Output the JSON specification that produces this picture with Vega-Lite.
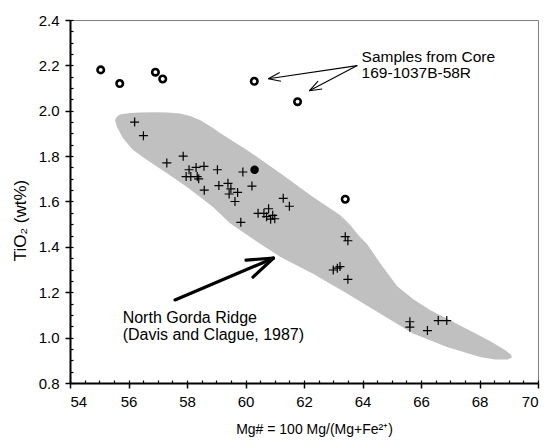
{
  "$schema": "https://vega.github.io/schema/vega-lite/v6.json",
  "width": 468,
  "height": 363,
  "autosize": "none",
  "padding": {"left": 70, "top": 20, "right": 10, "bottom": 57},
  "config": {
    "view": {"stroke": "#808080", "strokeWidth": 1},
    "font": "Liberation Sans",
    "axis": {"grid": false}
  },
  "datasets": {
    "region": [
      {"i": 0, "x": 55.538, "y": 1.959}, {"i": 1, "x": 55.607, "y": 1.975}, {"i": 2, "x": 55.709, "y": 1.984},
      {"i": 3, "x": 56.051, "y": 1.99}, {"i": 4, "x": 56.393, "y": 1.992}, {"i": 5, "x": 56.906, "y": 1.993},
      {"i": 6, "x": 57.316, "y": 1.992}, {"i": 7, "x": 57.761, "y": 1.988}, {"i": 8, "x": 58.103, "y": 1.977},
      {"i": 9, "x": 58.444, "y": 1.959}, {"i": 10, "x": 58.889, "y": 1.924}, {"i": 11, "x": 59.128, "y": 1.902},
      {"i": 12, "x": 60.051, "y": 1.827}, {"i": 13, "x": 61.179, "y": 1.726}, {"i": 14, "x": 62.308, "y": 1.62},
      {"i": 15, "x": 63.231, "y": 1.541}, {"i": 16, "x": 63.573, "y": 1.497}, {"i": 17, "x": 63.915, "y": 1.444},
      {"i": 18, "x": 64.154, "y": 1.413}, {"i": 19, "x": 64.598, "y": 1.329}, {"i": 20, "x": 65.179, "y": 1.228},
      {"i": 21, "x": 65.726, "y": 1.17}, {"i": 22, "x": 66.308, "y": 1.122}, {"i": 23, "x": 67.436, "y": 1.047},
      {"i": 24, "x": 68.359, "y": 0.985}, {"i": 25, "x": 68.872, "y": 0.946}, {"i": 26, "x": 69.077, "y": 0.924},
      {"i": 27, "x": 69.111, "y": 0.913}, {"i": 28, "x": 68.974, "y": 0.904}, {"i": 29, "x": 68.53, "y": 0.904},
      {"i": 30, "x": 68.017, "y": 0.915}, {"i": 31, "x": 66.889, "y": 0.959}, {"i": 32, "x": 65.726, "y": 1.018},
      {"i": 33, "x": 64.598, "y": 1.106}, {"i": 34, "x": 63.47, "y": 1.195}, {"i": 35, "x": 62.308, "y": 1.281},
      {"i": 36, "x": 61.179, "y": 1.357}, {"i": 37, "x": 60.393, "y": 1.423}, {"i": 38, "x": 59.47, "y": 1.504},
      {"i": 39, "x": 58.889, "y": 1.576}, {"i": 40, "x": 58.0, "y": 1.664}, {"i": 41, "x": 57.316, "y": 1.724},
      {"i": 42, "x": 56.632, "y": 1.783}, {"i": 43, "x": 56.154, "y": 1.827}, {"i": 44, "x": 55.812, "y": 1.879},
      {"i": 45, "x": 55.607, "y": 1.928}
    ],
    "gorda": [
      {"x": 56.21, "y": 1.95}, {"x": 56.51, "y": 1.89}, {"x": 57.31, "y": 1.77}, {"x": 57.87, "y": 1.8},
      {"x": 58.07, "y": 1.74}, {"x": 58.31, "y": 1.75}, {"x": 58.58, "y": 1.755}, {"x": 57.97, "y": 1.71},
      {"x": 58.13, "y": 1.71}, {"x": 58.35, "y": 1.71}, {"x": 58.4, "y": 1.7}, {"x": 59.04, "y": 1.74},
      {"x": 58.59, "y": 1.65}, {"x": 59.91, "y": 1.73}, {"x": 59.09, "y": 1.67}, {"x": 59.4, "y": 1.68},
      {"x": 59.5, "y": 1.656}, {"x": 59.73, "y": 1.64}, {"x": 59.44, "y": 1.633}, {"x": 59.64, "y": 1.6},
      {"x": 60.22, "y": 1.668}, {"x": 61.29, "y": 1.614}, {"x": 61.5, "y": 1.579}, {"x": 59.84, "y": 1.508},
      {"x": 60.43, "y": 1.548}, {"x": 60.63, "y": 1.548}, {"x": 60.79, "y": 1.568}, {"x": 60.72, "y": 1.533},
      {"x": 60.86, "y": 1.522}, {"x": 61.0, "y": 1.524}, {"x": 60.93, "y": 1.539}, {"x": 63.41, "y": 1.445},
      {"x": 63.5, "y": 1.427}, {"x": 63.0, "y": 1.298}, {"x": 63.14, "y": 1.306}, {"x": 63.23, "y": 1.313},
      {"x": 63.5, "y": 1.257}, {"x": 65.62, "y": 1.07}, {"x": 65.62, "y": 1.046}, {"x": 66.22, "y": 1.031},
      {"x": 66.59, "y": 1.075}, {"x": 66.88, "y": 1.075}
    ],
    "core": [
      {"x": 55.05, "y": 2.18}, {"x": 55.7, "y": 2.12}, {"x": 56.92, "y": 2.17}, {"x": 57.17, "y": 2.14},
      {"x": 60.3, "y": 2.13}, {"x": 61.78, "y": 2.04}, {"x": 63.41, "y": 1.61}
    ],
    "filled": [{"x": 60.31, "y": 1.74}],
    "thickArrow": [
      {"x": 57.59, "y": 1.166, "x2": 60.951, "y2": 1.35},
      {"x": 60.951, "y": 1.35, "x2": 60.017, "y2": 1.342},
      {"x": 60.951, "y": 1.35, "x2": 60.256, "y2": 1.267}
    ],
    "thinArrows": [
      {"x": 63.822, "y": 2.199, "x2": 60.78, "y2": 2.141},
      {"x": 60.78, "y": 2.141, "x2": 61.214, "y2": 2.13},
      {"x": 60.78, "y": 2.141, "x2": 61.169, "y2": 2.169},
      {"x": 63.822, "y": 2.199, "x2": 62.181, "y2": 2.088},
      {"x": 62.181, "y": 2.088, "x2": 62.622, "y2": 2.096},
      {"x": 62.181, "y": 2.088, "x2": 62.482, "y2": 2.131}
    ],
    "coreLabels": [
      {"x": 63.97, "y": 2.213, "text": "Samples from Core"},
      {"x": 63.97, "y": 2.143, "text": "169-1037B-58R"}
    ],
    "ridgeLabels": [
      {"x": 55.8, "y": 1.066, "text": "North Gorda Ridge"},
      {"x": 55.8, "y": 0.988, "text": "(Davis and Clague, 1987)"}
    ]
  },
  "layer": [
    {
      "data": {"name": "region"},
      "mark": {"type": "line", "fill": "#c0c0c0", "color": "#c0c0c0", "strokeWidth": 0, "interpolate": "linear-closed"},
      "encoding": {
        "x": {"field": "x", "type": "quantitative", "scale": {"domain": [54, 70], "nice": false, "zero": false},
          "axis": {"orient": "bottom", "values": [54, 56, 58, 60, 62, 64, 66, 68, 70], "format": "d",
            "tickSize": 5, "tickWidth": 1.5, "tickColor": "black", "domainColor": "black", "domainWidth": 2,
            "labelFont": "Liberation Sans", "labelFontSize": 15, "labelColor": "black", "labelPadding": 6,
            "title": "Mg# = 100 Mg/(Mg+Fe²⁺)", "titleFont": "Liberation Sans", "titleFontSize": 14,
            "titleFontWeight": "normal", "titleColor": "black", "titlePadding": 13, "titleX": 244}},
        "y": {"field": "y", "type": "quantitative", "scale": {"domain": [0.8, 2.4], "nice": false, "zero": false},
          "axis": {"orient": "left", "values": [0.8, 1.0, 1.2, 1.4, 1.6, 1.8, 2.0, 2.2, 2.4], "format": ".1f",
            "tickSize": 5, "tickWidth": 1.5, "tickColor": "black", "domainColor": "black", "domainWidth": 2,
            "labelFont": "Liberation Sans", "labelFontSize": 15, "labelColor": "black", "labelPadding": 6,
            "title": "TiO₂ (wt%)", "titleFont": "Liberation Sans", "titleFontSize": 17,
            "titleFontWeight": "normal", "titleColor": "black", "titlePadding": 9, "titleY": 200}},
        "order": {"field": "i", "type": "quantitative"}
      }
    },
    {
      "data": {"name": "gorda"},
      "mark": {"type": "point", "shape": "M-1,0H1M0,-1V1", "size": 81, "color": "black", "filled": false, "strokeWidth": 1.2, "opacity": 1},
      "encoding": {
        "x": {"field": "x", "type": "quantitative",
          "axis": {"orient": "bottom", "values": [54, 54.5, 55, 55.5, 56, 56.5, 57, 57.5, 58, 58.5, 59, 59.5, 60, 60.5, 61, 61.5, 62, 62.5, 63, 63.5, 64, 64.5, 65, 65.5, 66, 66.5, 67, 67.5, 68, 68.5, 69, 69.5, 70],
            "tickSize": -3, "tickWidth": 1.2, "tickColor": "black", "domain": false, "labels": false, "title": null}},
        "y": {"field": "y", "type": "quantitative",
          "axis": {"orient": "left", "values": [0.8, 0.85, 0.9, 0.95, 1.0, 1.05, 1.1, 1.15, 1.2, 1.25, 1.3, 1.35, 1.4, 1.45, 1.5, 1.55, 1.6, 1.65, 1.7, 1.75, 1.8, 1.85, 1.9, 1.95, 2.0, 2.05, 2.1, 2.15, 2.2, 2.25, 2.3, 2.35, 2.4],
            "tickSize": -3, "tickWidth": 1.2, "tickColor": "black", "domain": false, "labels": false, "title": null}}
      }
    },
    {
      "data": {"name": "core"},
      "mark": {"type": "point", "shape": "circle", "size": 42, "color": "black", "filled": false, "strokeWidth": 2.6, "opacity": 1},
      "encoding": {
        "x": {"field": "x", "type": "quantitative", "axis": null},
        "y": {"field": "y", "type": "quantitative", "axis": null}
      }
    },
    {
      "data": {"name": "filled"},
      "mark": {"type": "point", "shape": "circle", "size": 72, "color": "black", "filled": true, "opacity": 1},
      "encoding": {
        "x": {"field": "x", "type": "quantitative", "axis": null},
        "y": {"field": "y", "type": "quantitative", "axis": null}
      }
    },
    {
      "data": {"name": "thickArrow"},
      "mark": {"type": "rule", "color": "black", "strokeWidth": 3.2, "strokeCap": "round"},
      "encoding": {
        "x": {"field": "x", "type": "quantitative", "axis": null},
        "y": {"field": "y", "type": "quantitative", "axis": null},
        "x2": {"field": "x2"},
        "y2": {"field": "y2"}
      }
    },
    {
      "data": {"name": "thinArrows"},
      "mark": {"type": "rule", "color": "black", "strokeWidth": 1.1},
      "encoding": {
        "x": {"field": "x", "type": "quantitative", "axis": null},
        "y": {"field": "y", "type": "quantitative", "axis": null},
        "x2": {"field": "x2"},
        "y2": {"field": "y2"}
      }
    },
    {
      "data": {"name": "coreLabels"},
      "mark": {"type": "text", "align": "left", "baseline": "alphabetic", "font": "Liberation Sans", "fontSize": 15.5, "color": "black"},
      "encoding": {
        "x": {"field": "x", "type": "quantitative", "axis": null},
        "y": {"field": "y", "type": "quantitative", "axis": null},
        "text": {"field": "text"}
      }
    },
    {
      "data": {"name": "ridgeLabels"},
      "mark": {"type": "text", "align": "left", "baseline": "alphabetic", "font": "Liberation Sans", "fontSize": 16, "color": "black"},
      "encoding": {
        "x": {"field": "x", "type": "quantitative", "axis": null},
        "y": {"field": "y", "type": "quantitative", "axis": null},
        "text": {"field": "text"}
      }
    }
  ],
  "resolve": {"axis": {"x": "independent", "y": "independent"}}
}
